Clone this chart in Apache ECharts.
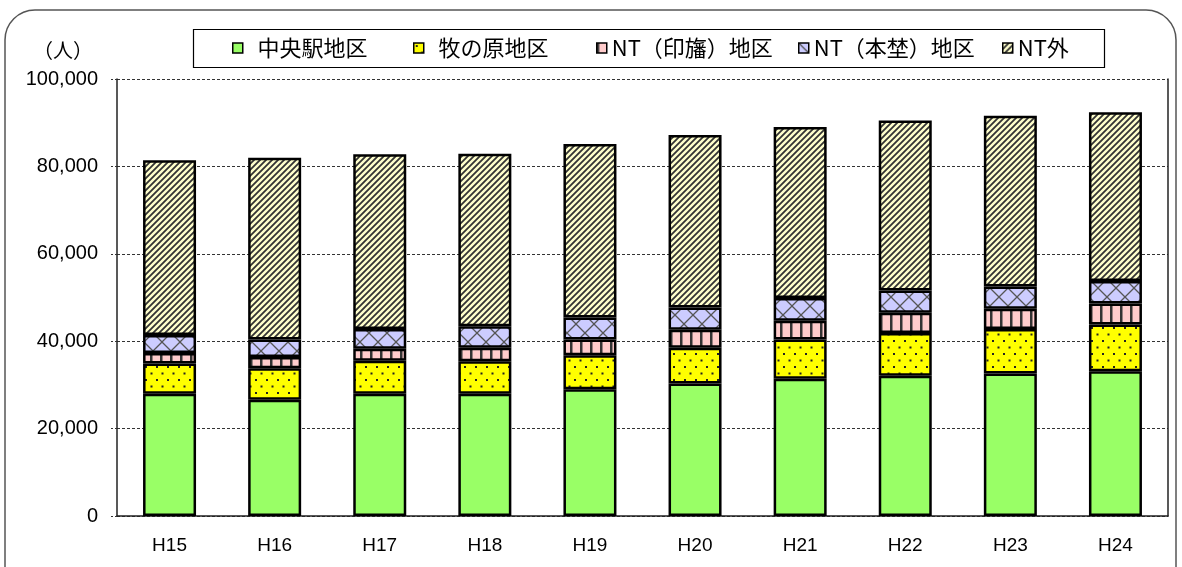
<!DOCTYPE html>
<html lang="ja">
<head>
	<meta charset="UTF-8">
	<title>地区別人口の推移</title>
	<script src="https://cdn.jsdelivr.net/npm/echarts@6/dist/echarts.min.js"></script>
	<style>
		html, body { margin: 0; padding: 0; background: #fff; }
		#chart { width: 1182px; height: 567px; }
	</style>
</head>
<body>
<div id="chart"></div>
<script>
	// 年度
	var years = ['H15', 'H16', 'H17', 'H18', 'H19', 'H20', 'H21', 'H22', 'H23', 'H24'];
	// 地区別の人数（積み上げ）
	var chuoEki  = [28000, 26600, 28000, 28000, 29000, 30300, 31400, 32100, 32600, 33100];
	var makinohara = [6900, 7200, 7500, 7400, 7800, 8200, 9000, 9800, 10200, 10700];
	var ntInba   = [2400, 2600, 2800, 3100, 3600, 4100, 4300, 4600, 4600, 4800];
	var ntMotono = [4100, 4000, 4500, 4900, 5000, 5100, 5200, 5100, 5100, 5200];
	var ntSoto   = [40000, 41600, 40000, 39500, 39700, 39500, 39100, 38900, 39100, 38600];
	var seriesNames = ['中央駅地区', '牧の原地区', 'NT（印旛）地区', 'NT（本埜）地区', 'NT外'];
	var yTicks = [0, 20000, 40000, 60000, 80000, 100000];

	var jpFont = '"Noto Sans CJK JP", sans-serif';
	var numFont = '"Liberation Sans", Arial, sans-serif';

	// 模様用の小さいcanvasを作る
	function makePattern(w, h, bg, draw) {
		var c = document.createElement('canvas');
		c.width = w; c.height = h;
		var ctx = c.getContext('2d');
		ctx.fillStyle = bg;
		ctx.fillRect(0, 0, w, h);
		draw(ctx);
		return { image: c, repeat: 'repeat' };
	}
	var dotFill = makePattern(11, 13, '#ffff00', function(ctx){
		ctx.fillStyle = '#222';
		ctx.fillRect(2, 2, 2, 2);
		ctx.fillRect(7.5, 8.5, 2, 2);
	});
	var stripeFill = makePattern(10, 4, '#ffcccc', function(ctx){
		ctx.fillStyle = '#333';
		ctx.fillRect(0, 0, 2.5, 4);
	});
	var crossFill = makePattern(18, 18, '#ccccff', function(ctx){
		ctx.strokeStyle = '#555';
		ctx.lineWidth = 1.3;
		ctx.beginPath();
		ctx.moveTo(0, 0); ctx.lineTo(18, 18);
		ctx.moveTo(18, 0); ctx.lineTo(0, 18);
		ctx.stroke();
	});
	var diagFill = makePattern(6, 6, '#ffffcc', function(ctx){
		ctx.strokeStyle = '#333';
		ctx.lineWidth = 1.8;
		ctx.beginPath();
		ctx.moveTo(0, 6); ctx.lineTo(6, 0);
		ctx.moveTo(-1, 1); ctx.lineTo(1, -1);
		ctx.moveTo(5, 7); ctx.lineTo(7, 5);
		ctx.stroke();
	});
	var fills = ['#99ff66', dotFill, stripeFill, crossFill, diagFill];
	var values = [chuoEki, makinohara, ntInba, ntMotono, ntSoto];

	var series = [];
	for (var i = 0; i < seriesNames.length; i++) {
		series.push({
			name: seriesNames[i],
			type: 'bar',
			stack: 'total',
			barWidth: 53,
			data: values[i],
			itemStyle: { color: fills[i], borderColor: '#000', borderWidth: 2.5 },
			emphasis: { disabled: true }
		});
	}

	// 凡例は項目ごとに置く（元の図の間隔がばらばらなので）
	var legendLeft = [232, 413, 596, 798, 1002];
	var legends = [];
	for (var j = 0; j < seriesNames.length; j++) {
		legends.push({
			data: [seriesNames[j]],
			left: legendLeft[j], top: 37,
			padding: 0,
			icon: 'rect',
			itemWidth: 10, itemHeight: 10,
			itemStyle: { borderWidth: 1.5, borderColor: '#000' },
			textStyle: { fontFamily: jpFont, fontSize: 22, color: '#000' },
			formatter: function(name){
				return name.indexOf('NT') === 0 ? name : '  ' + name;
			},
			selectedMode: false
		});
	}

	var chart = echarts.init(document.getElementById('chart'), null, { renderer: 'canvas' });
	chart.setOption({
		animation: false,
		backgroundColor: '#fff',
		graphic: [{
			type: 'rect',
			shape: { x: 5, y: 10, width: 1171, height: 600, r: 30 },
			style: { fill: 'none', stroke: '#555', lineWidth: 1.5 },
			silent: true
		}, {
			// 凡例の枠
			type: 'rect',
			shape: { x: 193.5, y: 29.5, width: 911, height: 38 },
			style: { fill: 'none', stroke: '#000', lineWidth: 1.2 },
			silent: true
		}],
		title: {
			text: '（人）',
			left: 28, top: 35,
			textStyle: { fontFamily: jpFont, fontSize: 20, fontWeight: 'normal', color: '#000' }
		},
		legend: legends,
		grid: { left: 117, right: 14, top: 79, bottom: 51 },
		xAxis: {
			type: 'category',
			data: years,
			axisLine: { lineStyle: { color: '#222', width: 1.5 } },
			axisTick: { inside: true, length: 6, lineStyle: { color: '#222' } },
			axisLabel: { margin: 20, fontFamily: numFont, fontSize: 19, color: '#000' }
		},
		yAxis: [{
			type: 'value',
			min: 0, max: yTicks[yTicks.length - 1], interval: yTicks[1] - yTicks[0],
			axisLine: { show: true, lineStyle: { color: '#222', width: 1.5 } },
			axisTick: { show: true, length: 8, lineStyle: { color: '#333', type: [2, 2] } },
			axisLabel: {
				margin: 19, fontFamily: numFont, fontSize: 20, color: '#000',
				formatter: function(v){ return v.toLocaleString('en-US'); }
			},
			splitLine: { lineStyle: { color: '#333', width: 1, type: [3, 2] } }
		}, {
			type: 'value',
			position: 'right',
			min: 0, max: yTicks[yTicks.length - 1], interval: yTicks[1] - yTicks[0],
			axisLine: { show: true, lineStyle: { color: '#222', width: 1.5 } },
			axisTick: { show: false },
			axisLabel: { show: false },
			splitLine: { show: false }
		}],
		series: series
	});
</script>
</body>
</html>
